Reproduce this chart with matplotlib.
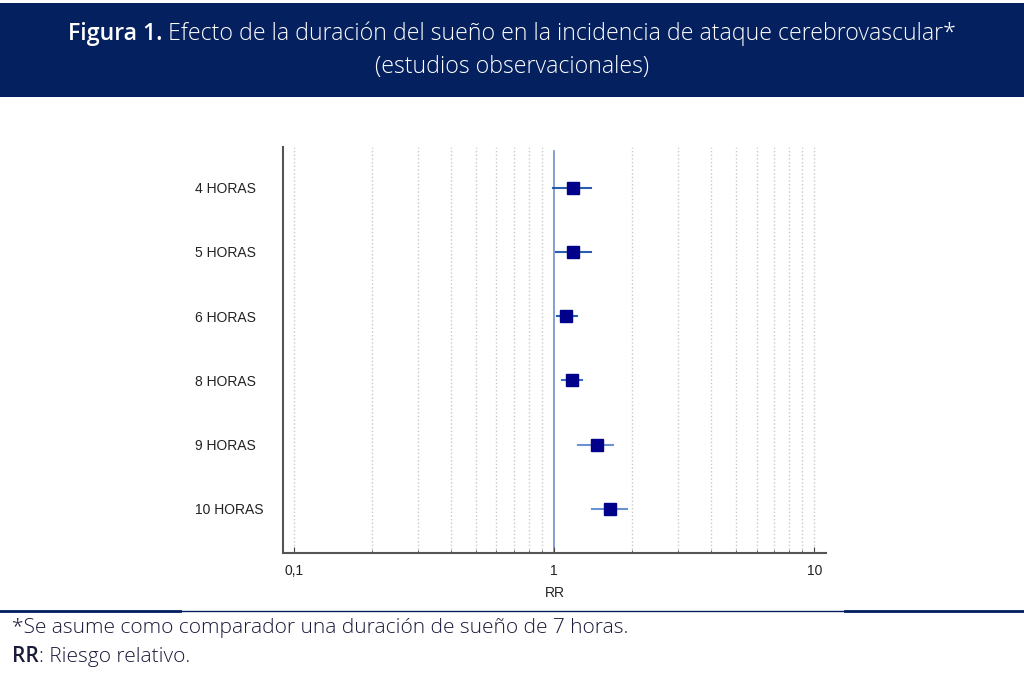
import matplotlib
matplotlib.use('Agg')
import matplotlib.pyplot as plt
from matplotlib.patches import Rectangle
from matplotlib.lines import Line2D
import matplotlib.transforms as mtransforms
import matplotlib.ticker as mticker

# datos (RR e IC 95%)
labels = ['4 HORAS', '5 HORAS', '6 HORAS', '8 HORAS', '9 HORAS', '10 HORAS']
rr = [1.18, 1.18, 1.11, 1.17, 1.46, 1.64]
ci_low = [0.99, 1.02, 1.03, 1.07, 1.24, 1.40]
ci_high = [1.38, 1.38, 1.22, 1.28, 1.69, 1.91]
ci_colors = ['#2a5db0', '#2a5db0', '#2a5db0', '#3b6cc0', '#6a92d4', '#6a92d4']
grid_vals = [0.1, 0.2, 0.3, 0.4, 0.5, 0.6, 0.7, 0.8, 0.9,
             2, 3, 4, 5, 6, 7, 8, 9, 10]
tick_vals = [0.1, 1, 10]
tick_labels = ['0,1', '1', '10']

navy = '#04205f'
txt_font = 'Open Sans'

fig = plt.figure(figsize=(10.24, 6.74), dpi=100)
renderer = fig.canvas.get_renderer()


def inline_text(x, y, parts, ha='left', **kw):
    # parts: lista de (texto, peso); se colocan uno tras otro
    objs = [fig.text(0, y, t, weight=w, va='center', **kw) for t, w in parts]
    widths = [o.get_window_extent(renderer).width / fig.bbox.width for o in objs]
    total = sum(widths)
    start = x - total / 2 if ha == 'center' else x
    for o, w in zip(objs, widths):
        o.set_x(start)
        start += w


# banda del titulo
fig.patches.append(Rectangle((0, 1 - 97 / 674), 1, 94 / 674, transform=fig.transFigure,
                             facecolor=navy, edgecolor='none', zorder=0))
inline_text(0.5, 1 - 34 / 674,
            [('Figura 1.', 'semibold'),
             (' Efecto de la duración del sueño en la incidencia de ataque cerebrovascular*', 'light')],
            ha='center', color='white', fontsize=16.7, family=txt_font)
fig.text(0.5, 1 - 67 / 674, '(estudios observacionales)', weight='light',
         ha='center', va='center', color='white', fontsize=16.7, family=txt_font)

ax = fig.add_axes([283 / 1024, 1 - 553 / 674, 543 / 1024, 406 / 674])
ax.set_xscale('log')
ax.set_xlim(0.0907, 11.1)
ypos = list(range(1, len(labels) + 1))
ax.set_ylim(len(labels) + 0.69, 1 - 0.64)

for g in grid_vals:
    ax.axvline(g, color='#c8c8c8', linestyle=':', linewidth=1, zorder=0)
ax.axvline(1, color='#6f90c8', linewidth=1.2, zorder=1, ymin=0, ymax=0.99)

for y, m, lo, hi, c in zip(ypos, rr, ci_low, ci_high, ci_colors):
    ax.plot([lo, hi], [y, y], color=c, linewidth=1.5, zorder=2)
    ax.plot(m, y, marker='s', markersize=9, color='#00008b', zorder=3)

ax.set_yticks([])
lab_trans = mtransforms.blended_transform_factory(fig.transFigure, ax.transData)
for y, lab in zip(ypos, labels):
    ax.text(195 / 1024, y + 0.02, lab, transform=lab_trans,
            ha='left', va='center', fontsize=10, family='Liberation Sans', color='#222222')

ax.set_xticks(tick_vals)
ax.set_xticklabels(tick_labels, family='Liberation Sans', fontsize=10, color='#222222')
ax.xaxis.set_minor_locator(mticker.FixedLocator([v for v in grid_vals if v not in tick_vals]))
ax.xaxis.set_minor_formatter(mticker.NullFormatter())
ax.tick_params(axis='x', which='major', direction='in', length=4, color='#444444', pad=8)
ax.tick_params(axis='x', which='minor', direction='in', length=2, color='#444444')
ax.set_xlabel('RR', family='Liberation Sans', fontsize=10, color='#222222', labelpad=6)

for s in ['top', 'right']:
    ax.spines[s].set_visible(False)
ax.spines['left'].set_color('#555555')
ax.spines['left'].set_linewidth(1.5)
ax.spines['bottom'].set_color('#555555')
ax.spines['bottom'].set_linewidth(1.5)

# linea inferior y notas
yl = 1 - 611 / 674
fig.add_artist(Line2D([0, 1], [yl, yl], transform=fig.transFigure, color=navy, linewidth=1))
fig.add_artist(Line2D([0, 180 / 1024], [yl, yl], transform=fig.transFigure, color=navy, linewidth=2))
fig.add_artist(Line2D([845 / 1024, 1], [yl, yl], transform=fig.transFigure, color=navy, linewidth=2))
fig.text(12 / 1024, 1 - 628 / 674, '*Se asume como comparador una duración de sueño de 7 horas.',
         ha='left', va='center', fontsize=15, weight='light', family=txt_font, color='#1a1a3a')
inline_text(12 / 1024, 1 - 657 / 674, [('RR', 'semibold'), (': Riesgo relativo.', 'light')],
            fontsize=15, family=txt_font, color='#1a1a3a')

fig.savefig('out.png', dpi=100, facecolor='white')
